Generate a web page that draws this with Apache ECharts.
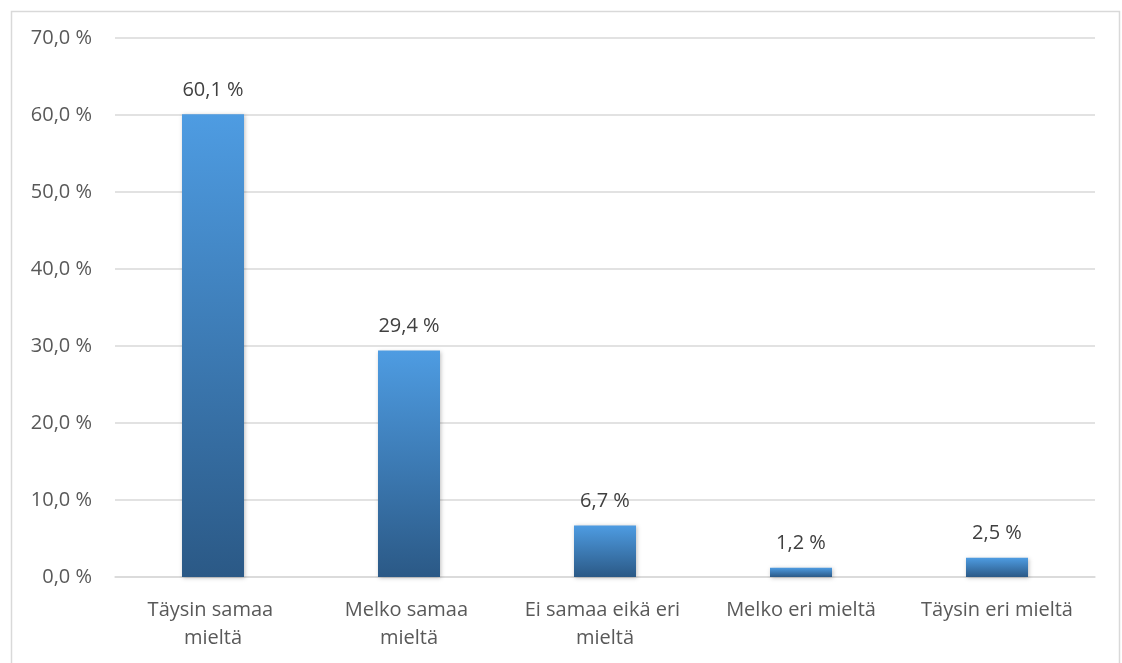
<!DOCTYPE html>
<html>
<head>
<meta charset="utf-8">
<script src="https://cdn.jsdelivr.net/npm/echarts@6/dist/echarts.min.js"></script>
<style>html,body{margin:0;padding:0;background:#fff}#c{width:1122px;height:663px}</style>
</head>
<body>
<div id="c"></div>
<script>
const categories = ["Täysin samaa mieltä", "Melko samaa mieltä", "Ei samaa eikä eri mieltä", "Melko eri mieltä", "Täysin eri mieltä"];
const values = [60.1, 29.4, 6.7, 1.2, 2.5];
const yTicks = [0, 10, 20, 30, 40, 50, 60, 70];

const fmt = v => v.toFixed(1).replace('.', ',') + ' %';
const FONT = 'Open Sans, Liberation Sans, sans-serif';
const chart = echarts.init(document.getElementById('c'));
chart.setOption({
  animation: false,
  backgroundColor: '#fff',
  graphic: [{
    type: 'rect', left: 9, top: 9,
    shape: { width: 1108, height: 660 },
    style: { fill: 'none', stroke: '#d9d9d9', lineWidth: 1.5 }
  }],
  grid: { left: 115, right: 27, top: 38, bottom: 86 },
  xAxis: {
    type: 'category', data: categories,
    axisLine: { lineStyle: { color: '#d9d9d9', width: 1.5 } },
    axisTick: { show: false },
    axisLabel: {
      color: '#595959', fontSize: 20, fontFamily: FONT,
      margin: 19, width: 175, overflow: 'break', lineHeight: 28, interval: 0
    }
  },
  yAxis: {
    type: 'value', min: yTicks[0], max: yTicks[yTicks.length - 1], interval: 10,
    axisLine: { show: false }, axisTick: { show: false },
    splitLine: { lineStyle: { color: '#d9d9d9', width: 1.5 } },
    axisLabel: {
      color: '#595959', fontSize: 20, fontFamily: FONT,
      margin: 23, formatter: v => fmt(v)
    }
  },
  series: [{
    type: 'bar', data: values, barWidth: 62,
    itemStyle: {
      color: new echarts.graphic.LinearGradient(0, 0, 0, 1, [
        { offset: 0, color: '#4e9ce2' },
        { offset: 1, color: '#2b5986' }
      ]),
      shadowColor: 'rgba(0,0,0,0.25)', shadowBlur: 4, shadowOffsetX: 1, shadowOffsetY: 1
    },
    label: {
      show: true, position: 'top', distance: 14,
      color: '#404040', fontSize: 20, fontFamily: FONT,
      formatter: p => fmt(p.value)
    }
  }]
});
</script>
</body>
</html>
